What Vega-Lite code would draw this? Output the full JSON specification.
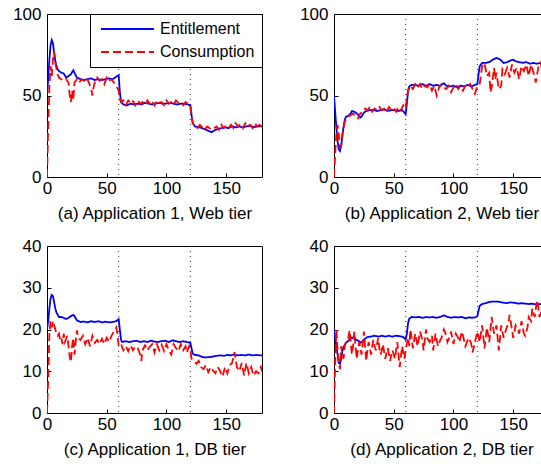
{
"$schema": "https://vega.github.io/schema/vega-lite/v6.json",
"background": "white",
"padding": {"left": 11, "top": 4, "right": 0, "bottom": 0},
"columns": 2,
"spacing": {"row": 14, "column": 35},
"config": {
  "font": "Liberation Sans",
  "view": {"stroke": "black", "strokeWidth": 1},
  "axis": {"grid": false, "domain": false, "ticks": true, "tickSize": -4, "tickColor": "black", "labelFlush": false, "labelFont": "Liberation Sans", "labelFontSize": 17, "labelColor": "black", "titleFont": "Liberation Sans", "titleFontSize": 17, "titleFontWeight": "normal", "titleColor": "black"},
  "axisY": {"labelPadding": 10, "minExtent": 35, "maxExtent": 35},
  "axisX": {"labelPadding": 7, "titlePadding": 9},
  "line": {"strokeWidth": 1.8}
},
"resolve": {"scale": {"color": "independent", "strokeDash": "independent"}, "legend": {"color": "independent", "strokeDash": "independent"}},
"datasets": {
"a": [
{"s":"Entitlement","t":0,"v":50},{"s":"Entitlement","t":1,"v":60},{"s":"Entitlement","t":2,"v":72},{"s":"Entitlement","t":3,"v":81},{"s":"Entitlement","t":4,"v":84},{"s":"Entitlement","t":5,"v":82},{"s":"Entitlement","t":6,"v":76},{"s":"Entitlement","t":7,"v":71},{"s":"Entitlement","t":8,"v":68},{"s":"Entitlement","t":9,"v":66},{"s":"Entitlement","t":10,"v":65},{"s":"Entitlement","t":12,"v":64},{"s":"Entitlement","t":14,"v":63.5},{"s":"Entitlement","t":16,"v":61},{"s":"Entitlement","t":18,"v":62},{"s":"Entitlement","t":20,"v":63},{"s":"Entitlement","t":22,"v":65.5},{"s":"Entitlement","t":23,"v":64},{"s":"Entitlement","t":25,"v":61},{"s":"Entitlement","t":28,"v":60},{"s":"Entitlement","t":31,"v":59.5},{"s":"Entitlement","t":34,"v":60},{"s":"Entitlement","t":37,"v":60.5},{"s":"Entitlement","t":40,"v":59.5},{"s":"Entitlement","t":43,"v":60},{"s":"Entitlement","t":46,"v":59.5},{"s":"Entitlement","t":49,"v":60},{"s":"Entitlement","t":52,"v":60.5},{"s":"Entitlement","t":55,"v":60},{"s":"Entitlement","t":57,"v":61},{"s":"Entitlement","t":59,"v":62},{"s":"Entitlement","t":60,"v":62.5},{"s":"Entitlement","t":61,"v":52},{"s":"Entitlement","t":62,"v":46},{"s":"Entitlement","t":64,"v":44.5},{"s":"Entitlement","t":67,"v":44},{"s":"Entitlement","t":70,"v":45},{"s":"Entitlement","t":73,"v":44.5},{"s":"Entitlement","t":76,"v":45},{"s":"Entitlement","t":79,"v":44.5},{"s":"Entitlement","t":82,"v":45.5},{"s":"Entitlement","t":85,"v":45},{"s":"Entitlement","t":88,"v":44.5},{"s":"Entitlement","t":91,"v":45},{"s":"Entitlement","t":94,"v":45.5},{"s":"Entitlement","t":97,"v":45},{"s":"Entitlement","t":100,"v":45},{"s":"Entitlement","t":103,"v":45.5},{"s":"Entitlement","t":106,"v":45},{"s":"Entitlement","t":109,"v":44.5},{"s":"Entitlement","t":112,"v":45},{"s":"Entitlement","t":115,"v":45},{"s":"Entitlement","t":118,"v":44.5},{"s":"Entitlement","t":120,"v":44},{"s":"Entitlement","t":121,"v":38},{"s":"Entitlement","t":122,"v":33},{"s":"Entitlement","t":124,"v":31},{"s":"Entitlement","t":127,"v":30.5},{"s":"Entitlement","t":130,"v":30},{"s":"Entitlement","t":133,"v":29},{"s":"Entitlement","t":136,"v":28},{"s":"Entitlement","t":138,"v":27.5},{"s":"Entitlement","t":140,"v":28.5},{"s":"Entitlement","t":143,"v":29.5},{"s":"Entitlement","t":146,"v":30},{"s":"Entitlement","t":149,"v":30.5},{"s":"Entitlement","t":152,"v":30},{"s":"Entitlement","t":155,"v":31},{"s":"Entitlement","t":158,"v":30.5},{"s":"Entitlement","t":161,"v":31},{"s":"Entitlement","t":164,"v":30.5},{"s":"Entitlement","t":167,"v":31},{"s":"Entitlement","t":170,"v":31.5},{"s":"Entitlement","t":173,"v":30.5},{"s":"Entitlement","t":176,"v":31},{"s":"Entitlement","t":180,"v":31},
{"s":"Consumption","t":0,"v":0},{"s":"Consumption","t":1,"v":30},{"s":"Consumption","t":2,"v":55},{"s":"Consumption","t":3,"v":68},{"s":"Consumption","t":4,"v":62},{"s":"Consumption","t":5,"v":72},{"s":"Consumption","t":6,"v":77},{"s":"Consumption","t":7,"v":70},{"s":"Consumption","t":8,"v":66},{"s":"Consumption","t":9,"v":63},{"s":"Consumption","t":10,"v":61},{"s":"Consumption","t":12,"v":60},{"s":"Consumption","t":14,"v":59},{"s":"Consumption","t":16,"v":60},{"s":"Consumption","t":18,"v":58},{"s":"Consumption","t":19,"v":50},{"s":"Consumption","t":20,"v":46},{"s":"Consumption","t":21,"v":53},{"s":"Consumption","t":22,"v":47},{"s":"Consumption","t":23,"v":58},{"s":"Consumption","t":25,"v":60},{"s":"Consumption","t":27,"v":58},{"s":"Consumption","t":29,"v":60},{"s":"Consumption","t":31,"v":59},{"s":"Consumption","t":33,"v":61},{"s":"Consumption","t":35,"v":58},{"s":"Consumption","t":37,"v":54},{"s":"Consumption","t":38,"v":50},{"s":"Consumption","t":39,"v":55},{"s":"Consumption","t":40,"v":58},{"s":"Consumption","t":42,"v":61},{"s":"Consumption","t":44,"v":59},{"s":"Consumption","t":46,"v":60},{"s":"Consumption","t":48,"v":57},{"s":"Consumption","t":50,"v":61},{"s":"Consumption","t":52,"v":59},{"s":"Consumption","t":54,"v":60},{"s":"Consumption","t":56,"v":58},{"s":"Consumption","t":58,"v":56},{"s":"Consumption","t":60,"v":53},{"s":"Consumption","t":61,"v":48},{"s":"Consumption","t":62,"v":46},{"s":"Consumption","t":64,"v":47},{"s":"Consumption","t":66,"v":44},{"s":"Consumption","t":68,"v":47},{"s":"Consumption","t":70,"v":45},{"s":"Consumption","t":72,"v":46.5},{"s":"Consumption","t":74,"v":44},{"s":"Consumption","t":76,"v":47},{"s":"Consumption","t":78,"v":45},{"s":"Consumption","t":80,"v":46},{"s":"Consumption","t":82,"v":44},{"s":"Consumption","t":84,"v":47},{"s":"Consumption","t":86,"v":45},{"s":"Consumption","t":88,"v":46.5},{"s":"Consumption","t":90,"v":44},{"s":"Consumption","t":92,"v":47},{"s":"Consumption","t":94,"v":45.5},{"s":"Consumption","t":96,"v":46},{"s":"Consumption","t":98,"v":44},{"s":"Consumption","t":100,"v":47},{"s":"Consumption","t":102,"v":45},{"s":"Consumption","t":104,"v":46},{"s":"Consumption","t":106,"v":44.5},{"s":"Consumption","t":108,"v":47},{"s":"Consumption","t":110,"v":45.5},{"s":"Consumption","t":112,"v":46},{"s":"Consumption","t":114,"v":44},{"s":"Consumption","t":116,"v":46},{"s":"Consumption","t":118,"v":45},{"s":"Consumption","t":120,"v":44},{"s":"Consumption","t":121,"v":38},{"s":"Consumption","t":122,"v":33},{"s":"Consumption","t":124,"v":31},{"s":"Consumption","t":126,"v":30},{"s":"Consumption","t":128,"v":32},{"s":"Consumption","t":130,"v":30.5},{"s":"Consumption","t":132,"v":29},{"s":"Consumption","t":134,"v":31},{"s":"Consumption","t":136,"v":30},{"s":"Consumption","t":138,"v":29},{"s":"Consumption","t":140,"v":30},{"s":"Consumption","t":142,"v":31},{"s":"Consumption","t":144,"v":29},{"s":"Consumption","t":146,"v":32},{"s":"Consumption","t":148,"v":30},{"s":"Consumption","t":150,"v":31.5},{"s":"Consumption","t":152,"v":30},{"s":"Consumption","t":154,"v":32},{"s":"Consumption","t":156,"v":30},{"s":"Consumption","t":158,"v":33},{"s":"Consumption","t":160,"v":31},{"s":"Consumption","t":162,"v":32.5},{"s":"Consumption","t":164,"v":30},{"s":"Consumption","t":166,"v":33},{"s":"Consumption","t":168,"v":31},{"s":"Consumption","t":170,"v":32},{"s":"Consumption","t":172,"v":30},{"s":"Consumption","t":174,"v":33},{"s":"Consumption","t":176,"v":31},{"s":"Consumption","t":178,"v":32},{"s":"Consumption","t":180,"v":31}
],
"b": [
{"s":"Entitlement","t":0,"v":50},{"s":"Entitlement","t":1,"v":40},{"s":"Entitlement","t":2,"v":30},{"s":"Entitlement","t":3,"v":22},{"s":"Entitlement","t":4,"v":17},{"s":"Entitlement","t":5,"v":16},{"s":"Entitlement","t":6,"v":19},{"s":"Entitlement","t":7,"v":25},{"s":"Entitlement","t":8,"v":31},{"s":"Entitlement","t":9,"v":35},{"s":"Entitlement","t":10,"v":37},{"s":"Entitlement","t":12,"v":37.5},{"s":"Entitlement","t":14,"v":39},{"s":"Entitlement","t":15,"v":40.5},{"s":"Entitlement","t":17,"v":40},{"s":"Entitlement","t":19,"v":39},{"s":"Entitlement","t":21,"v":37.5},{"s":"Entitlement","t":22,"v":36.5},{"s":"Entitlement","t":23,"v":37},{"s":"Entitlement","t":25,"v":39.5},{"s":"Entitlement","t":27,"v":40.5},{"s":"Entitlement","t":30,"v":41},{"s":"Entitlement","t":33,"v":41},{"s":"Entitlement","t":36,"v":40.5},{"s":"Entitlement","t":39,"v":41},{"s":"Entitlement","t":42,"v":41.5},{"s":"Entitlement","t":45,"v":40.5},{"s":"Entitlement","t":48,"v":41},{"s":"Entitlement","t":51,"v":41},{"s":"Entitlement","t":54,"v":40.5},{"s":"Entitlement","t":57,"v":41},{"s":"Entitlement","t":59,"v":39.5},{"s":"Entitlement","t":60,"v":38.5},{"s":"Entitlement","t":61,"v":45},{"s":"Entitlement","t":62,"v":53},{"s":"Entitlement","t":63,"v":55.5},{"s":"Entitlement","t":65,"v":56.5},{"s":"Entitlement","t":68,"v":56.5},{"s":"Entitlement","t":71,"v":56},{"s":"Entitlement","t":74,"v":57},{"s":"Entitlement","t":77,"v":56},{"s":"Entitlement","t":80,"v":57},{"s":"Entitlement","t":83,"v":56},{"s":"Entitlement","t":86,"v":56.5},{"s":"Entitlement","t":89,"v":56},{"s":"Entitlement","t":92,"v":57.5},{"s":"Entitlement","t":94,"v":56},{"s":"Entitlement","t":97,"v":55.5},{"s":"Entitlement","t":100,"v":56},{"s":"Entitlement","t":103,"v":55},{"s":"Entitlement","t":106,"v":56},{"s":"Entitlement","t":109,"v":55.5},{"s":"Entitlement","t":112,"v":56.5},{"s":"Entitlement","t":115,"v":55.5},{"s":"Entitlement","t":118,"v":56.5},{"s":"Entitlement","t":120,"v":57},{"s":"Entitlement","t":121,"v":63},{"s":"Entitlement","t":122,"v":68},{"s":"Entitlement","t":124,"v":70},{"s":"Entitlement","t":127,"v":70},{"s":"Entitlement","t":130,"v":70.5},{"s":"Entitlement","t":133,"v":72},{"s":"Entitlement","t":136,"v":73},{"s":"Entitlement","t":138,"v":72.5},{"s":"Entitlement","t":140,"v":71.5},{"s":"Entitlement","t":142,"v":70},{"s":"Entitlement","t":145,"v":70.5},{"s":"Entitlement","t":148,"v":71.5},{"s":"Entitlement","t":150,"v":72},{"s":"Entitlement","t":152,"v":71},{"s":"Entitlement","t":155,"v":70.5},{"s":"Entitlement","t":158,"v":70},{"s":"Entitlement","t":161,"v":70.5},{"s":"Entitlement","t":164,"v":69.5},{"s":"Entitlement","t":167,"v":70},{"s":"Entitlement","t":170,"v":69.5},{"s":"Entitlement","t":173,"v":70},{"s":"Entitlement","t":176,"v":69.5},{"s":"Entitlement","t":180,"v":69.5},
{"s":"Consumption","t":0,"v":0},{"s":"Consumption","t":1,"v":14},{"s":"Consumption","t":2,"v":27},{"s":"Consumption","t":3,"v":32},{"s":"Consumption","t":4,"v":26},{"s":"Consumption","t":5,"v":18},{"s":"Consumption","t":6,"v":19},{"s":"Consumption","t":7,"v":26},{"s":"Consumption","t":8,"v":30},{"s":"Consumption","t":9,"v":34},{"s":"Consumption","t":10,"v":35},{"s":"Consumption","t":12,"v":37},{"s":"Consumption","t":14,"v":38},{"s":"Consumption","t":16,"v":39},{"s":"Consumption","t":18,"v":37},{"s":"Consumption","t":20,"v":36},{"s":"Consumption","t":22,"v":39},{"s":"Consumption","t":24,"v":40},{"s":"Consumption","t":26,"v":42},{"s":"Consumption","t":28,"v":41},{"s":"Consumption","t":30,"v":43},{"s":"Consumption","t":32,"v":40},{"s":"Consumption","t":34,"v":42},{"s":"Consumption","t":36,"v":41},{"s":"Consumption","t":38,"v":43},{"s":"Consumption","t":40,"v":41},{"s":"Consumption","t":42,"v":42},{"s":"Consumption","t":44,"v":40},{"s":"Consumption","t":46,"v":43},{"s":"Consumption","t":48,"v":41},{"s":"Consumption","t":50,"v":42},{"s":"Consumption","t":52,"v":40},{"s":"Consumption","t":54,"v":43},{"s":"Consumption","t":56,"v":41},{"s":"Consumption","t":58,"v":44},{"s":"Consumption","t":60,"v":42},{"s":"Consumption","t":61,"v":49},{"s":"Consumption","t":62,"v":53},{"s":"Consumption","t":64,"v":56},{"s":"Consumption","t":66,"v":54},{"s":"Consumption","t":68,"v":57},{"s":"Consumption","t":70,"v":55},{"s":"Consumption","t":72,"v":57},{"s":"Consumption","t":74,"v":54},{"s":"Consumption","t":76,"v":56},{"s":"Consumption","t":78,"v":55},{"s":"Consumption","t":80,"v":57},{"s":"Consumption","t":82,"v":53},{"s":"Consumption","t":84,"v":56},{"s":"Consumption","t":86,"v":50},{"s":"Consumption","t":88,"v":55},{"s":"Consumption","t":90,"v":57},{"s":"Consumption","t":92,"v":55},{"s":"Consumption","t":94,"v":54},{"s":"Consumption","t":96,"v":56},{"s":"Consumption","t":98,"v":52},{"s":"Consumption","t":100,"v":55},{"s":"Consumption","t":102,"v":57},{"s":"Consumption","t":104,"v":54},{"s":"Consumption","t":106,"v":56},{"s":"Consumption","t":108,"v":53},{"s":"Consumption","t":110,"v":56},{"s":"Consumption","t":112,"v":55},{"s":"Consumption","t":114,"v":57},{"s":"Consumption","t":116,"v":54},{"s":"Consumption","t":118,"v":51},{"s":"Consumption","t":120,"v":56},{"s":"Consumption","t":122,"v":57},{"s":"Consumption","t":124,"v":68},{"s":"Consumption","t":126,"v":70},{"s":"Consumption","t":128,"v":62},{"s":"Consumption","t":130,"v":64},{"s":"Consumption","t":131,"v":52},{"s":"Consumption","t":132,"v":55},{"s":"Consumption","t":134,"v":67},{"s":"Consumption","t":135,"v":60},{"s":"Consumption","t":136,"v":64},{"s":"Consumption","t":138,"v":54},{"s":"Consumption","t":140,"v":56},{"s":"Consumption","t":141,"v":66},{"s":"Consumption","t":143,"v":63},{"s":"Consumption","t":145,"v":67},{"s":"Consumption","t":147,"v":61},{"s":"Consumption","t":149,"v":69},{"s":"Consumption","t":151,"v":64},{"s":"Consumption","t":153,"v":67},{"s":"Consumption","t":155,"v":60},{"s":"Consumption","t":157,"v":68},{"s":"Consumption","t":159,"v":65},{"s":"Consumption","t":161,"v":69},{"s":"Consumption","t":163,"v":62},{"s":"Consumption","t":165,"v":69},{"s":"Consumption","t":167,"v":64},{"s":"Consumption","t":169,"v":58},{"s":"Consumption","t":171,"v":67},{"s":"Consumption","t":173,"v":70},{"s":"Consumption","t":175,"v":64},{"s":"Consumption","t":177,"v":69},{"s":"Consumption","t":179,"v":62},{"s":"Consumption","t":180,"v":66}
],
"c": [
{"s":"Entitlement","t":0,"v":20},{"s":"Entitlement","t":1,"v":22},{"s":"Entitlement","t":2,"v":25},{"s":"Entitlement","t":3,"v":27.5},{"s":"Entitlement","t":4,"v":28.3},{"s":"Entitlement","t":5,"v":28},{"s":"Entitlement","t":6,"v":26.5},{"s":"Entitlement","t":7,"v":25},{"s":"Entitlement","t":8,"v":24},{"s":"Entitlement","t":9,"v":23.5},{"s":"Entitlement","t":10,"v":23},{"s":"Entitlement","t":12,"v":23},{"s":"Entitlement","t":14,"v":22.8},{"s":"Entitlement","t":16,"v":22.5},{"s":"Entitlement","t":18,"v":22.8},{"s":"Entitlement","t":20,"v":23.2},{"s":"Entitlement","t":22,"v":23.5},{"s":"Entitlement","t":23,"v":23.2},{"s":"Entitlement","t":25,"v":22.2},{"s":"Entitlement","t":28,"v":21.8},{"s":"Entitlement","t":31,"v":21.9},{"s":"Entitlement","t":34,"v":21.7},{"s":"Entitlement","t":37,"v":22},{"s":"Entitlement","t":40,"v":21.8},{"s":"Entitlement","t":43,"v":22},{"s":"Entitlement","t":46,"v":21.7},{"s":"Entitlement","t":49,"v":21.9},{"s":"Entitlement","t":52,"v":21.7},{"s":"Entitlement","t":55,"v":21.8},{"s":"Entitlement","t":58,"v":22},{"s":"Entitlement","t":60,"v":22.5},{"s":"Entitlement","t":61,"v":20},{"s":"Entitlement","t":62,"v":17.5},{"s":"Entitlement","t":63,"v":17},{"s":"Entitlement","t":66,"v":17.2},{"s":"Entitlement","t":69,"v":17},{"s":"Entitlement","t":72,"v":17.2},{"s":"Entitlement","t":75,"v":17.3},{"s":"Entitlement","t":78,"v":17},{"s":"Entitlement","t":81,"v":17.2},{"s":"Entitlement","t":84,"v":17},{"s":"Entitlement","t":87,"v":17.3},{"s":"Entitlement","t":90,"v":17.1},{"s":"Entitlement","t":93,"v":17},{"s":"Entitlement","t":96,"v":17.2},{"s":"Entitlement","t":99,"v":17.3},{"s":"Entitlement","t":102,"v":17},{"s":"Entitlement","t":105,"v":17.4},{"s":"Entitlement","t":108,"v":17.2},{"s":"Entitlement","t":111,"v":17},{"s":"Entitlement","t":114,"v":17.2},{"s":"Entitlement","t":117,"v":17},{"s":"Entitlement","t":120,"v":16.8},{"s":"Entitlement","t":121,"v":15.5},{"s":"Entitlement","t":122,"v":14.2},{"s":"Entitlement","t":124,"v":13.9},{"s":"Entitlement","t":127,"v":13.8},{"s":"Entitlement","t":130,"v":13.4},{"s":"Entitlement","t":133,"v":13.3},{"s":"Entitlement","t":136,"v":13.4},{"s":"Entitlement","t":139,"v":13.5},{"s":"Entitlement","t":142,"v":13.7},{"s":"Entitlement","t":145,"v":13.8},{"s":"Entitlement","t":148,"v":13.7},{"s":"Entitlement","t":151,"v":13.9},{"s":"Entitlement","t":154,"v":13.8},{"s":"Entitlement","t":157,"v":14},{"s":"Entitlement","t":160,"v":13.8},{"s":"Entitlement","t":163,"v":13.9},{"s":"Entitlement","t":166,"v":13.8},{"s":"Entitlement","t":169,"v":14},{"s":"Entitlement","t":172,"v":13.8},{"s":"Entitlement","t":175,"v":13.9},{"s":"Entitlement","t":178,"v":13.8},{"s":"Entitlement","t":180,"v":13.8},
{"s":"Consumption","t":0,"v":0},{"s":"Consumption","t":1,"v":8},{"s":"Consumption","t":2,"v":19},{"s":"Consumption","t":3,"v":22},{"s":"Consumption","t":4,"v":20.5},{"s":"Consumption","t":5,"v":22},{"s":"Consumption","t":6,"v":21},{"s":"Consumption","t":7,"v":20},{"s":"Consumption","t":8,"v":19},{"s":"Consumption","t":9,"v":18.5},{"s":"Consumption","t":10,"v":19},{"s":"Consumption","t":11,"v":17.5},{"s":"Consumption","t":12,"v":18},{"s":"Consumption","t":13,"v":16.5},{"s":"Consumption","t":14,"v":19},{"s":"Consumption","t":15,"v":17},{"s":"Consumption","t":17,"v":18.5},{"s":"Consumption","t":18,"v":16},{"s":"Consumption","t":19,"v":13.5},{"s":"Consumption","t":20,"v":12.2},{"s":"Consumption","t":21,"v":16},{"s":"Consumption","t":22,"v":18},{"s":"Consumption","t":23,"v":14},{"s":"Consumption","t":24,"v":17},{"s":"Consumption","t":25,"v":19.8},{"s":"Consumption","t":26,"v":18},{"s":"Consumption","t":28,"v":17.5},{"s":"Consumption","t":30,"v":18.5},{"s":"Consumption","t":32,"v":16.5},{"s":"Consumption","t":34,"v":18},{"s":"Consumption","t":36,"v":16},{"s":"Consumption","t":38,"v":18.5},{"s":"Consumption","t":40,"v":16.8},{"s":"Consumption","t":42,"v":17.5},{"s":"Consumption","t":44,"v":16.5},{"s":"Consumption","t":46,"v":17.8},{"s":"Consumption","t":48,"v":16.5},{"s":"Consumption","t":50,"v":18},{"s":"Consumption","t":52,"v":17},{"s":"Consumption","t":54,"v":18.5},{"s":"Consumption","t":56,"v":19.5},{"s":"Consumption","t":58,"v":20.5},{"s":"Consumption","t":59,"v":19},{"s":"Consumption","t":60,"v":16},{"s":"Consumption","t":62,"v":16.5},{"s":"Consumption","t":64,"v":15},{"s":"Consumption","t":66,"v":16},{"s":"Consumption","t":68,"v":14.8},{"s":"Consumption","t":70,"v":16.2},{"s":"Consumption","t":72,"v":15},{"s":"Consumption","t":74,"v":16},{"s":"Consumption","t":76,"v":15.5},{"s":"Consumption","t":78,"v":14},{"s":"Consumption","t":79,"v":12.5},{"s":"Consumption","t":80,"v":15},{"s":"Consumption","t":82,"v":16.2},{"s":"Consumption","t":84,"v":15},{"s":"Consumption","t":86,"v":15.8},{"s":"Consumption","t":88,"v":16.5},{"s":"Consumption","t":90,"v":14.5},{"s":"Consumption","t":92,"v":16.5},{"s":"Consumption","t":94,"v":15},{"s":"Consumption","t":96,"v":16.3},{"s":"Consumption","t":98,"v":14.8},{"s":"Consumption","t":100,"v":16.5},{"s":"Consumption","t":102,"v":15},{"s":"Consumption","t":104,"v":14},{"s":"Consumption","t":106,"v":16.5},{"s":"Consumption","t":108,"v":15.5},{"s":"Consumption","t":110,"v":14.8},{"s":"Consumption","t":112,"v":16.5},{"s":"Consumption","t":114,"v":15},{"s":"Consumption","t":116,"v":16},{"s":"Consumption","t":117,"v":14.5},{"s":"Consumption","t":119,"v":16},{"s":"Consumption","t":120,"v":15},{"s":"Consumption","t":121,"v":13},{"s":"Consumption","t":123,"v":12.5},{"s":"Consumption","t":125,"v":11.8},{"s":"Consumption","t":127,"v":12.5},{"s":"Consumption","t":129,"v":11},{"s":"Consumption","t":131,"v":10.5},{"s":"Consumption","t":133,"v":11.5},{"s":"Consumption","t":135,"v":9.8},{"s":"Consumption","t":137,"v":11},{"s":"Consumption","t":139,"v":10.2},{"s":"Consumption","t":141,"v":9.5},{"s":"Consumption","t":143,"v":11},{"s":"Consumption","t":145,"v":10},{"s":"Consumption","t":147,"v":8.7},{"s":"Consumption","t":149,"v":11},{"s":"Consumption","t":151,"v":9.5},{"s":"Consumption","t":153,"v":11.5},{"s":"Consumption","t":155,"v":12},{"s":"Consumption","t":157,"v":14.6},{"s":"Consumption","t":159,"v":11},{"s":"Consumption","t":161,"v":10},{"s":"Consumption","t":163,"v":12},{"s":"Consumption","t":165,"v":9},{"s":"Consumption","t":167,"v":12},{"s":"Consumption","t":169,"v":9.5},{"s":"Consumption","t":171,"v":11},{"s":"Consumption","t":173,"v":9},{"s":"Consumption","t":175,"v":10},{"s":"Consumption","t":177,"v":9.5},{"s":"Consumption","t":179,"v":11},{"s":"Consumption","t":180,"v":10}
],
"d": [
{"s":"Entitlement","t":0,"v":20},{"s":"Entitlement","t":1,"v":18},{"s":"Entitlement","t":2,"v":16},{"s":"Entitlement","t":3,"v":14},{"s":"Entitlement","t":4,"v":12},{"s":"Entitlement","t":5,"v":11.8},{"s":"Entitlement","t":6,"v":13},{"s":"Entitlement","t":7,"v":14.8},{"s":"Entitlement","t":8,"v":15.8},{"s":"Entitlement","t":10,"v":16.8},{"s":"Entitlement","t":12,"v":17.3},{"s":"Entitlement","t":14,"v":17.8},{"s":"Entitlement","t":15,"v":18.1},{"s":"Entitlement","t":17,"v":17.8},{"s":"Entitlement","t":19,"v":17.5},{"s":"Entitlement","t":21,"v":17.2},{"s":"Entitlement","t":22,"v":16.8},{"s":"Entitlement","t":24,"v":17.2},{"s":"Entitlement","t":26,"v":17.8},{"s":"Entitlement","t":28,"v":18.2},{"s":"Entitlement","t":31,"v":18.3},{"s":"Entitlement","t":34,"v":18.5},{"s":"Entitlement","t":37,"v":18.3},{"s":"Entitlement","t":40,"v":18.5},{"s":"Entitlement","t":43,"v":18.3},{"s":"Entitlement","t":46,"v":18.5},{"s":"Entitlement","t":49,"v":18.3},{"s":"Entitlement","t":52,"v":18.5},{"s":"Entitlement","t":55,"v":18.4},{"s":"Entitlement","t":58,"v":18.2},{"s":"Entitlement","t":60,"v":17.6},{"s":"Entitlement","t":61,"v":19},{"s":"Entitlement","t":62,"v":21.5},{"s":"Entitlement","t":63,"v":22.6},{"s":"Entitlement","t":65,"v":23},{"s":"Entitlement","t":68,"v":22.9},{"s":"Entitlement","t":71,"v":23},{"s":"Entitlement","t":74,"v":22.8},{"s":"Entitlement","t":77,"v":23},{"s":"Entitlement","t":80,"v":22.9},{"s":"Entitlement","t":83,"v":23},{"s":"Entitlement","t":86,"v":22.8},{"s":"Entitlement","t":89,"v":23},{"s":"Entitlement","t":92,"v":23.4},{"s":"Entitlement","t":95,"v":23},{"s":"Entitlement","t":98,"v":22.8},{"s":"Entitlement","t":101,"v":23},{"s":"Entitlement","t":104,"v":22.9},{"s":"Entitlement","t":107,"v":23},{"s":"Entitlement","t":110,"v":22.7},{"s":"Entitlement","t":113,"v":22.9},{"s":"Entitlement","t":116,"v":22.8},{"s":"Entitlement","t":119,"v":23},{"s":"Entitlement","t":120,"v":23.2},{"s":"Entitlement","t":121,"v":24.5},{"s":"Entitlement","t":122,"v":25.7},{"s":"Entitlement","t":124,"v":26.1},{"s":"Entitlement","t":127,"v":26.3},{"s":"Entitlement","t":130,"v":26.6},{"s":"Entitlement","t":133,"v":26.7},{"s":"Entitlement","t":136,"v":26.7},{"s":"Entitlement","t":139,"v":26.6},{"s":"Entitlement","t":142,"v":26.4},{"s":"Entitlement","t":145,"v":26.3},{"s":"Entitlement","t":148,"v":26.5},{"s":"Entitlement","t":151,"v":26.4},{"s":"Entitlement","t":154,"v":26.2},{"s":"Entitlement","t":157,"v":26.3},{"s":"Entitlement","t":160,"v":26.2},{"s":"Entitlement","t":163,"v":26.1},{"s":"Entitlement","t":166,"v":26.2},{"s":"Entitlement","t":169,"v":26},{"s":"Entitlement","t":172,"v":26.1},{"s":"Entitlement","t":175,"v":26},{"s":"Entitlement","t":178,"v":26.1},{"s":"Entitlement","t":180,"v":26},
{"s":"Consumption","t":0,"v":0},{"s":"Consumption","t":1,"v":12},{"s":"Consumption","t":2,"v":20},{"s":"Consumption","t":3,"v":15},{"s":"Consumption","t":4,"v":12},{"s":"Consumption","t":5,"v":10.5},{"s":"Consumption","t":6,"v":16},{"s":"Consumption","t":7,"v":14},{"s":"Consumption","t":8,"v":13},{"s":"Consumption","t":9,"v":16},{"s":"Consumption","t":10,"v":17},{"s":"Consumption","t":12,"v":18},{"s":"Consumption","t":13,"v":19.8},{"s":"Consumption","t":14,"v":17},{"s":"Consumption","t":15,"v":14},{"s":"Consumption","t":16,"v":16},{"s":"Consumption","t":17,"v":19.5},{"s":"Consumption","t":18,"v":16},{"s":"Consumption","t":19,"v":13},{"s":"Consumption","t":20,"v":15},{"s":"Consumption","t":21,"v":17},{"s":"Consumption","t":22,"v":16},{"s":"Consumption","t":23,"v":14},{"s":"Consumption","t":24,"v":16.5},{"s":"Consumption","t":25,"v":19.5},{"s":"Consumption","t":26,"v":16},{"s":"Consumption","t":27,"v":12.5},{"s":"Consumption","t":28,"v":15},{"s":"Consumption","t":29,"v":17},{"s":"Consumption","t":30,"v":15.5},{"s":"Consumption","t":31,"v":14},{"s":"Consumption","t":32,"v":16},{"s":"Consumption","t":33,"v":17.5},{"s":"Consumption","t":34,"v":16},{"s":"Consumption","t":35,"v":15},{"s":"Consumption","t":36,"v":16.5},{"s":"Consumption","t":37,"v":18},{"s":"Consumption","t":38,"v":15.5},{"s":"Consumption","t":39,"v":14},{"s":"Consumption","t":40,"v":15},{"s":"Consumption","t":41,"v":16.5},{"s":"Consumption","t":42,"v":14.5},{"s":"Consumption","t":43,"v":13},{"s":"Consumption","t":44,"v":14.5},{"s":"Consumption","t":45,"v":15.5},{"s":"Consumption","t":46,"v":14},{"s":"Consumption","t":47,"v":12.5},{"s":"Consumption","t":48,"v":14},{"s":"Consumption","t":49,"v":15},{"s":"Consumption","t":50,"v":14},{"s":"Consumption","t":51,"v":13},{"s":"Consumption","t":52,"v":15},{"s":"Consumption","t":53,"v":17},{"s":"Consumption","t":54,"v":14},{"s":"Consumption","t":55,"v":11},{"s":"Consumption","t":56,"v":13.5},{"s":"Consumption","t":57,"v":16},{"s":"Consumption","t":58,"v":14.5},{"s":"Consumption","t":59,"v":13},{"s":"Consumption","t":60,"v":15},{"s":"Consumption","t":62,"v":18},{"s":"Consumption","t":63,"v":16},{"s":"Consumption","t":64,"v":20},{"s":"Consumption","t":65,"v":18},{"s":"Consumption","t":66,"v":15.5},{"s":"Consumption","t":68,"v":19},{"s":"Consumption","t":70,"v":16},{"s":"Consumption","t":72,"v":19.5},{"s":"Consumption","t":74,"v":17.5},{"s":"Consumption","t":75,"v":15},{"s":"Consumption","t":77,"v":20},{"s":"Consumption","t":78,"v":18},{"s":"Consumption","t":80,"v":17},{"s":"Consumption","t":82,"v":18.5},{"s":"Consumption","t":83,"v":15},{"s":"Consumption","t":85,"v":19},{"s":"Consumption","t":87,"v":16},{"s":"Consumption","t":89,"v":17.5},{"s":"Consumption","t":90,"v":18},{"s":"Consumption","t":92,"v":20},{"s":"Consumption","t":94,"v":18.5},{"s":"Consumption","t":95,"v":17},{"s":"Consumption","t":97,"v":18.5},{"s":"Consumption","t":98,"v":19.5},{"s":"Consumption","t":100,"v":16.5},{"s":"Consumption","t":102,"v":19},{"s":"Consumption","t":104,"v":18},{"s":"Consumption","t":105,"v":17},{"s":"Consumption","t":107,"v":19.5},{"s":"Consumption","t":108,"v":18.5},{"s":"Consumption","t":110,"v":16},{"s":"Consumption","t":112,"v":17.5},{"s":"Consumption","t":113,"v":18},{"s":"Consumption","t":115,"v":16.5},{"s":"Consumption","t":116,"v":14.5},{"s":"Consumption","t":118,"v":17},{"s":"Consumption","t":120,"v":19.5},{"s":"Consumption","t":122,"v":17},{"s":"Consumption","t":124,"v":21},{"s":"Consumption","t":126,"v":15.5},{"s":"Consumption","t":128,"v":20.5},{"s":"Consumption","t":130,"v":17},{"s":"Consumption","t":132,"v":23},{"s":"Consumption","t":134,"v":19},{"s":"Consumption","t":136,"v":21},{"s":"Consumption","t":138,"v":15},{"s":"Consumption","t":140,"v":21},{"s":"Consumption","t":142,"v":18},{"s":"Consumption","t":144,"v":20},{"s":"Consumption","t":146,"v":21.5},{"s":"Consumption","t":147,"v":23.5},{"s":"Consumption","t":149,"v":20},{"s":"Consumption","t":150,"v":18},{"s":"Consumption","t":152,"v":21},{"s":"Consumption","t":154,"v":20},{"s":"Consumption","t":155,"v":19},{"s":"Consumption","t":157,"v":22},{"s":"Consumption","t":159,"v":19},{"s":"Consumption","t":160,"v":18.5},{"s":"Consumption","t":162,"v":20.5},{"s":"Consumption","t":163,"v":23},{"s":"Consumption","t":165,"v":22},{"s":"Consumption","t":166,"v":25},{"s":"Consumption","t":168,"v":23},{"s":"Consumption","t":170,"v":27},{"s":"Consumption","t":171,"v":25.5},{"s":"Consumption","t":172,"v":23},{"s":"Consumption","t":174,"v":24.5},{"s":"Consumption","t":175,"v":24},{"s":"Consumption","t":177,"v":22},{"s":"Consumption","t":178,"v":21},{"s":"Consumption","t":180,"v":22}
]
},
"concat": [
{
 "width": 215, "height": 163,
 "layer": [
  {"data": {"values": [{"t": 60}, {"t": 120}]}, "mark": {"type": "rule", "strokeDash": [1, 4], "color": "#333333", "strokeWidth": 1}, "encoding": {"x": {"field": "t", "type": "quantitative", "scale": {"domain": [0, 180], "nice": false}, "axis": {"values": [0, 50, 100, 150], "title": "(a) Application 1, Web tier"}}}},
  {"data": {"name": "a"}, "transform": [{"filter": "datum.s == 'Entitlement'"}], "mark": {"type": "line", "clip": true},
   "encoding": {"x": {"field": "t", "type": "quantitative"}, "y": {"field": "v", "type": "quantitative", "scale": {"domain": [0, 100], "nice": false}, "axis": {"values": [0, 50, 100], "title": null}},
    "color": {"field": "s", "type": "nominal", "scale": {"domain": ["Entitlement", "Consumption"], "range": ["#0000ff", "#ff0000"]}, "legend": {"title": null, "orient": "top-right", "offset": 0, "padding": 7, "strokeColor": "black", "fillColor": "white", "symbolType": "stroke", "symbolSize": 2809, "symbolStrokeWidth": 2, "clipHeight": 16, "rowPadding": 7, "labelFontSize": 16, "labelOffset": 5, "labelFont": "Liberation Sans", "labelColor": "black", "symbolOffset": 3}},
    "strokeDash": {"field": "s", "type": "nominal", "scale": {"domain": ["Entitlement", "Consumption"], "range": [[1, 0], [8, 4]]}, "legend": {"title": null, "orient": "top-right", "offset": 0, "padding": 7, "strokeColor": "black", "fillColor": "white", "symbolType": "stroke", "symbolSize": 2809, "symbolStrokeWidth": 2, "clipHeight": 16, "rowPadding": 7, "labelFontSize": 16, "labelOffset": 5, "labelFont": "Liberation Sans", "labelColor": "black", "symbolOffset": 3}}}},
  {"data": {"name": "a"}, "transform": [{"filter": "datum.s == 'Consumption'"}], "mark": {"type": "line", "clip": true},
   "encoding": {"x": {"field": "t", "type": "quantitative"}, "y": {"field": "v", "type": "quantitative"},
    "color": {"field": "s", "type": "nominal"}, "strokeDash": {"field": "s", "type": "nominal"}}}
 ]
},
{
 "width": 215, "height": 163,
 "layer": [
  {"data": {"values": [{"t": 60}, {"t": 120}]}, "mark": {"type": "rule", "strokeDash": [1, 4], "color": "#333333", "strokeWidth": 1}, "encoding": {"x": {"field": "t", "type": "quantitative", "scale": {"domain": [0, 180], "nice": false}, "axis": {"values": [0, 50, 100, 150], "title": "(b) Application 2, Web tier"}}}},
  {"data": {"name": "b"}, "transform": [{"filter": "datum.s == 'Entitlement'"}], "mark": {"type": "line", "clip": true},
   "encoding": {"x": {"field": "t", "type": "quantitative"}, "y": {"field": "v", "type": "quantitative", "scale": {"domain": [0, 100], "nice": false}, "axis": {"values": [0, 50, 100], "title": null}},
    "color": {"field": "s", "type": "nominal", "scale": {"domain": ["Entitlement", "Consumption"], "range": ["#0000ff", "#ff0000"]}, "legend": null},
    "strokeDash": {"field": "s", "type": "nominal", "scale": {"domain": ["Entitlement", "Consumption"], "range": [[1, 0], [8, 4]]}, "legend": null}}},
  {"data": {"name": "b"}, "transform": [{"filter": "datum.s == 'Consumption'"}], "mark": {"type": "line", "clip": true},
   "encoding": {"x": {"field": "t", "type": "quantitative"}, "y": {"field": "v", "type": "quantitative"},
    "color": {"field": "s", "type": "nominal", "legend": null}, "strokeDash": {"field": "s", "type": "nominal", "legend": null}}}
 ]
},
{
 "width": 215, "height": 167,
 "layer": [
  {"data": {"values": [{"t": 60}, {"t": 120}]}, "mark": {"type": "rule", "strokeDash": [1, 4], "color": "#333333", "strokeWidth": 1}, "encoding": {"x": {"field": "t", "type": "quantitative", "scale": {"domain": [0, 180], "nice": false}, "axis": {"values": [0, 50, 100, 150], "title": "(c) Application 1, DB tier"}}}},
  {"data": {"name": "c"}, "transform": [{"filter": "datum.s == 'Entitlement'"}], "mark": {"type": "line", "clip": true},
   "encoding": {"x": {"field": "t", "type": "quantitative"}, "y": {"field": "v", "type": "quantitative", "scale": {"domain": [0, 40], "nice": false}, "axis": {"values": [0, 10, 20, 30, 40], "title": null}},
    "color": {"field": "s", "type": "nominal", "scale": {"domain": ["Entitlement", "Consumption"], "range": ["#0000ff", "#ff0000"]}, "legend": null},
    "strokeDash": {"field": "s", "type": "nominal", "scale": {"domain": ["Entitlement", "Consumption"], "range": [[1, 0], [8, 4]]}, "legend": null}}},
  {"data": {"name": "c"}, "transform": [{"filter": "datum.s == 'Consumption'"}], "mark": {"type": "line", "clip": true},
   "encoding": {"x": {"field": "t", "type": "quantitative"}, "y": {"field": "v", "type": "quantitative"},
    "color": {"field": "s", "type": "nominal", "legend": null}, "strokeDash": {"field": "s", "type": "nominal", "legend": null}}}
 ]
},
{
 "width": 215, "height": 167,
 "layer": [
  {"data": {"values": [{"t": 60}, {"t": 120}]}, "mark": {"type": "rule", "strokeDash": [1, 4], "color": "#333333", "strokeWidth": 1}, "encoding": {"x": {"field": "t", "type": "quantitative", "scale": {"domain": [0, 180], "nice": false}, "axis": {"values": [0, 50, 100, 150], "title": "(d) Application 2, DB tier"}}}},
  {"data": {"name": "d"}, "transform": [{"filter": "datum.s == 'Entitlement'"}], "mark": {"type": "line", "clip": true},
   "encoding": {"x": {"field": "t", "type": "quantitative"}, "y": {"field": "v", "type": "quantitative", "scale": {"domain": [0, 40], "nice": false}, "axis": {"values": [0, 10, 20, 30, 40], "title": null}},
    "color": {"field": "s", "type": "nominal", "scale": {"domain": ["Entitlement", "Consumption"], "range": ["#0000ff", "#ff0000"]}, "legend": null},
    "strokeDash": {"field": "s", "type": "nominal", "scale": {"domain": ["Entitlement", "Consumption"], "range": [[1, 0], [8, 4]]}, "legend": null}}},
  {"data": {"name": "d"}, "transform": [{"filter": "datum.s == 'Consumption'"}], "mark": {"type": "line", "clip": true},
   "encoding": {"x": {"field": "t", "type": "quantitative"}, "y": {"field": "v", "type": "quantitative"},
    "color": {"field": "s", "type": "nominal", "legend": null}, "strokeDash": {"field": "s", "type": "nominal", "legend": null}}}
 ]
}
]
}
